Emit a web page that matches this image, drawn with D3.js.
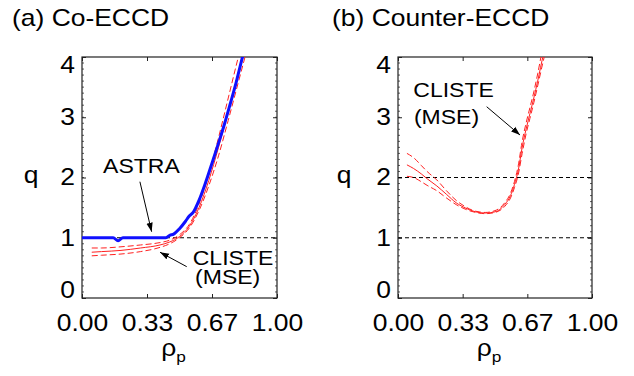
<!DOCTYPE html>
<html>
<head>
<meta charset="utf-8">
<script src="https://cdn.jsdelivr.net/npm/d3@7"></script>
<style>
  body { margin: 0; background: #fff; }
  svg { font-family: "Liberation Sans", Arial, sans-serif; }
</style>
</head>
<body>
<div class="chart"></div>
<script>
var svgWidth = 634;
var svgHeight = 376;

// x ticks (rho_p) and their printed labels
var xTicks = [0, 1 / 3, 2 / 3, 1];
var xTickLabels = ["0.00", "0.33", "0.67", "1.00"];
var yTicks = [0, 1, 2, 3, 4];

// (a) Co-ECCD : ASTRA q profile
var astraRho = [0, 0.16, 0.185, 0.21, 0.43, 0.45, 0.47, 0.5, 0.53, 0.55, 0.57, 0.6, 0.63, 0.67, 0.7, 0.73, 0.76, 0.79, 0.82, 0.84];
var astraQ   = [1.0, 1.0, 0.95, 1.0, 1.0, 1.04, 1.06, 1.15, 1.27, 1.36, 1.42, 1.62, 1.88, 2.27, 2.57, 2.88, 3.22, 3.57, 3.96, 4.2];

// (a) CLISTE (MSE) : central and error band
var cliA_rho = [0.05, 0.1, 0.2, 0.3, 0.4, 0.45, 0.5, 0.55, 0.6, 0.65, 0.7, 0.75, 0.8, 0.84];
var cliA_mid = [0.76, 0.77, 0.79, 0.83, 0.88, 0.93, 1.02, 1.19, 1.5, 1.95, 2.5, 3.1, 3.72, 4.2];
var cliA_up  = [0.83, 0.83, 0.85, 0.88, 0.92, 0.96, 1.05, 1.22, 1.56, 2.05, 2.66, 3.32, 3.98, 4.5];
var cliA_lo  = [0.70, 0.71, 0.73, 0.77, 0.84, 0.90, 1.0, 1.16, 1.45, 1.86, 2.36, 2.95, 3.56, 4.05];

// (b) Counter-ECCD : CLISTE (MSE)
var cliB_rho = [0.046, 0.08, 0.12, 0.15, 0.2, 0.25, 0.3, 0.35, 0.4, 0.45, 0.5, 0.55, 0.58, 0.6, 0.62, 0.64, 0.66, 0.68, 0.7, 0.72, 0.75, 0.77];
var cliB_mid = [2.21, 2.15, 2.06, 1.98, 1.86, 1.72, 1.58, 1.49, 1.43, 1.41, 1.43, 1.55, 1.7, 1.88, 2.12, 2.5, 2.8, 3.06, 3.32, 3.6, 4.05, 4.3];
var cliB_up  = [2.40, 2.33, 2.2, 2.1, 1.96, 1.78, 1.62, 1.51, 1.44, 1.42, 1.45, 1.58, 1.74, 1.93, 2.2, 2.6, 2.9, 3.16, 3.42, 3.72, 4.2, 4.4];
var cliB_lo  = [2.02, 2.0, 1.93, 1.87, 1.78, 1.66, 1.55, 1.47, 1.42, 1.40, 1.42, 1.52, 1.66, 1.83, 2.05, 2.4, 2.72, 2.98, 3.24, 3.52, 3.95, 4.2];

var sx = 1.15;   // glyphs in the original are a bit wide

var svg = d3.select(".chart")
  .append("svg")
  .attr("width", svgWidth)
  .attr("height", svgHeight);

var defs = svg.append("defs");
defs.append("marker")
  .attr("id", "arrow")
  .attr("viewBox", "0 0 10 10")
  .attr("refX", 10)
  .attr("refY", 5)
  .attr("markerWidth", 9)
  .attr("markerHeight", 9)
  .attr("markerUnits", "userSpaceOnUse")
  .attr("orient", "auto")
  .append("path")
  .attr("d", "M0,1.5 L10,5 L0,8.5 Z")
  .attr("fill", "#000");

function addText(parent, x, y, str, size, anchor) {
  return parent.append("text")
    .attr("transform", `translate(${x},${y}) scale(${sx},1)`)
    .attr("text-anchor", anchor || "start")
    .attr("font-size", size)
    .attr("fill", "#000")
    .text(str);
}

function zip(xs, ys) {
  return xs.map((x, i) => [x, ys[i]]);
}

var plotTop = 57, plotBottom = 298;

function drawPanel(id, left, right, title, titleX, qLabelX, hlines) {
  var x = d3.scaleLinear().domain([0, 1]).range([left, right]);
  var y = d3.scaleLinear().domain([0, 4]).range([plotBottom, plotTop]);
  var g = svg.append("g");

  defs.append("clipPath").attr("id", "clip-" + id)
    .append("rect")
    .attr("x", left).attr("y", plotTop)
    .attr("width", right - left).attr("height", plotBottom - plotTop);

  // minor y ticks, left and right
  var minor = d3.range(1, 40).map(d => d / 10);
  g.selectAll(".minorL").data(minor).enter().append("line")
    .attr("x1", left).attr("x2", left + 2)
    .attr("y1", d => y(d)).attr("y2", d => y(d))
    .attr("stroke", "#333").attr("stroke-width", 0.8);
  g.selectAll(".minorR").data(minor).enter().append("line")
    .attr("x1", right).attr("x2", right - 2)
    .attr("y1", d => y(d)).attr("y2", d => y(d))
    .attr("stroke", "#333").attr("stroke-width", 0.8);

  // axes (ticks inward)
  var bottomAxis = d3.axisBottom(x).tickValues(xTicks)
    .tickFormat((d, i) => xTickLabels[i]).tickSizeInner(-4).tickSizeOuter(0).tickPadding(17);
  var gx = g.append("g").attr("transform", `translate(0,${plotBottom})`).call(bottomAxis);
  gx.select(".domain").remove();
  gx.selectAll("text").attr("font-size", 23).attr("fill", "#000")
    .attr("transform", `scale(${sx},1)`);

  var gxt = g.append("g").attr("transform", `translate(0,${plotTop})`)
    .call(d3.axisTop(x).tickValues(xTicks).tickFormat("").tickSizeInner(-4).tickSizeOuter(0));
  gxt.select(".domain").remove();

  var leftAxis = d3.axisLeft(y).tickValues(yTicks).tickFormat(d3.format("d"))
    .tickSizeInner(-4).tickSizeOuter(0).tickPadding(7);
  var gy = g.append("g").attr("transform", `translate(${left},0)`).call(leftAxis);
  gy.select(".domain").remove();
  gy.selectAll("text").attr("font-size", 23).attr("fill", "#000")
    .attr("x", -7 / sx)
    .attr("y", d => d === 4 ? 8 : d === 0 ? -8 : 0)
    .attr("transform", `scale(${sx},1)`);

  var gyr = g.append("g").attr("transform", `translate(${right},0)`)
    .call(d3.axisRight(y).tickValues(yTicks).tickFormat("").tickSizeInner(-4).tickSizeOuter(0));
  gyr.select(".domain").remove();
  g.selectAll(".tick line").attr("stroke", "#222");
  g.selectAll("g").attr("font-family", null);

  // reference lines
  g.selectAll(".hline").data(hlines).enter().append("line")
    .attr("x1", left).attr("x2", right)
    .attr("y1", d => y(d)).attr("y2", d => y(d))
    .attr("stroke", "#000").attr("stroke-width", 1)
    .attr("stroke-dasharray", "4,3");

  // frame
  g.append("rect")
    .attr("x", left).attr("y", plotTop)
    .attr("width", right - left).attr("height", plotBottom - plotTop)
    .attr("fill", "none").attr("stroke", "#222").attr("stroke-width", 1.2);

  // labels
  addText(svg, titleX, 26, title, 23);
  addText(svg, qLabelX, 183, "q", 23, "middle");
  var xl = svg.append("text")
    .attr("transform", `translate(${(left + right) / 2 - 6},356) scale(${sx},1)`)
    .attr("text-anchor", "middle")
    .attr("font-size", 23);
  xl.append("tspan").text("ρ");
  xl.append("tspan").attr("font-size", 15).attr("dy", 6).text("p");

  var plot = g.append("g").attr("clip-path", `url(#clip-${id})`);
  return { x: x, y: y, g: g, plot: plot };
}

function drawLine(p, pts, color, width, dash) {
  var line = d3.line().x(d => p.x(d[0])).y(d => p.y(d[1])).curve(d3.curveMonotoneX);
  p.plot.append("path")
    .datum(pts)
    .attr("d", line)
    .attr("fill", "none")
    .attr("stroke", color)
    .attr("stroke-width", width)
    .attr("stroke-dasharray", dash || null)
    .attr("stroke-linejoin", "round");
}

function arrow(p, x1, y1, x2, y2) {
  svg.append("line")
    .attr("x1", p.x(x1)).attr("y1", p.y(y1))
    .attr("x2", p.x(x2)).attr("y2", p.y(y2))
    .attr("stroke", "#000").attr("stroke-width", 1)
    .attr("marker-end", "url(#arrow)");
}

// (a)
var pa = drawPanel("a", 82, 277, "(a) Co-ECCD", 12, 31, [1]);
drawLine(pa, zip(cliA_rho, cliA_up), "#ff2020", 1, "6,3");
drawLine(pa, zip(cliA_rho, cliA_lo), "#ff2020", 1, "6,3");
drawLine(pa, zip(cliA_rho, cliA_mid), "#ff2020", 1);
drawLine(pa, zip(astraRho, astraQ), "#1010ff", 3);
addText(svg, pa.x(0.108), pa.y(2.07), "ASTRA", 20);
arrow(pa, 0.297, 1.93, 0.357, 1.1);
addText(svg, pa.x(0.568), pa.y(0.55), "CLISTE", 20);
addText(svg, pa.x(0.58), pa.y(0.23), "(MSE)", 20);
arrow(pa, 0.537, 0.52, 0.40, 0.76);

// (b)
var pb = drawPanel("b", 398, 592, "(b) Counter-ECCD", 332, 344, [1, 2]);
drawLine(pb, zip(cliB_rho, cliB_up), "#ff2020", 1, "6,3");
drawLine(pb, zip(cliB_rho, cliB_lo), "#ff2020", 1, "6,3");
drawLine(pb, zip(cliB_rho, cliB_mid), "#ff2020", 1);
addText(svg, pb.x(0.079), pb.y(3.34), "CLISTE", 20);
addText(svg, pb.x(0.082), pb.y(2.89), "(MSE)", 20);
arrow(pb, 0.457, 3.175, 0.629, 2.705);
</script>
</body>
</html>
